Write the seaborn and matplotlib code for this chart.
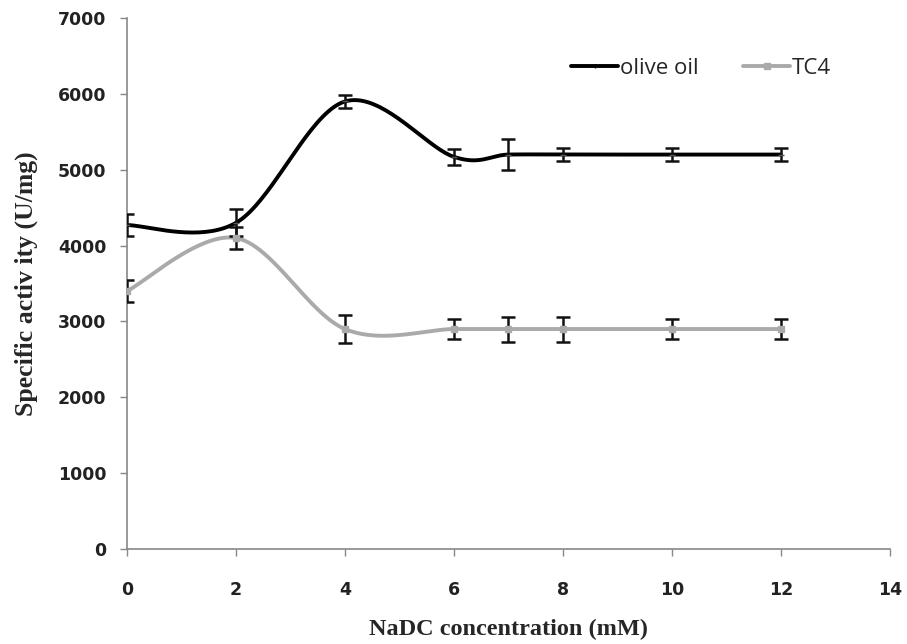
import numpy as np
import pandas as pd
import matplotlib
matplotlib.use("Agg")
import matplotlib.pyplot as plt
import seaborn as sns
from matplotlib.lines import Line2D

# ---- data ----
conc = [0, 2, 4, 6, 7, 8, 10, 12]
olive_oil = [4270, 4300, 5900, 5170, 5200, 5200, 5200, 5200]
olive_err = [150, 180, 85, 110, 210, 90, 90, 90]
tc4 = [3400, 4100, 2900, 2900, 2900, 2900, 2900, 2900]
tc4_err = [150, 150, 180, 130, 165, 165, 130, 130]
x_ticks = [0, 2, 4, 6, 8, 10, 12, 14]
y_ticks = [0, 1000, 2000, 3000, 4000, 5000, 6000, 7000]


def smooth(xs, ys, xscale, yscale, n=40, k=6.0):
    """Excel-like smoothed line (Bezier through points in pixel-like space)."""
    xs = np.asarray(xs, float); ys = np.asarray(ys, float)
    P = np.column_stack([xs * xscale, ys * yscale])
    P = np.vstack([P[0], P, P[-1]])
    out = []
    t = np.linspace(0, 1, n)
    for i in range(1, len(P) - 2):
        p0, p1, p2, p3 = P[i - 1], P[i], P[i + 1], P[i + 2]
        b1 = p1 + (p2 - p0) / k
        b2 = p2 - (p3 - p1) / k
        seg = ((1 - t) ** 3)[:, None] * p1 + (3 * (1 - t) ** 2 * t)[:, None] * b1 \
            + (3 * (1 - t) * t ** 2)[:, None] * b2 + (t ** 3)[:, None] * p2
        out.append(seg if i == 1 else seg[1:])
    S = np.vstack(out)
    return S[:, 0] / xscale, S[:, 1] / yscale


sns.set_theme(style="white")
fig = plt.figure(figsize=(9.07, 6.44), dpi=100)
ax = fig.add_axes([0.140, 0.1475, 0.841, 0.8245])

px_x, px_y = 763.0 / 14.0, 531.0 / 7000.0
frames = []
for name, ys in [("olive oil", olive_oil), ("TC4", tc4)]:
    sx, sy = smooth(conc, ys, px_x, px_y)
    frames.append(pd.DataFrame({"x": sx, "y": sy, "series": name}))
df = pd.concat(frames, ignore_index=True)

palette = {"olive oil": "#000000", "TC4": "#aaaaaa"}
sns.lineplot(data=df, x="x", y="y", hue="series", palette=palette, sort=False,
             estimator=None, linewidth=2.8, ax=ax, legend=False)

ax.errorbar(conc, olive_oil, yerr=olive_err, fmt="none", ecolor="#111111",
            elinewidth=1.8, capsize=5, capthick=1.8, zorder=5)
ax.errorbar(conc, tc4, yerr=tc4_err, fmt="none", ecolor="#111111",
            elinewidth=1.8, capsize=5, capthick=1.8, zorder=5)
ax.plot(conc, tc4, linestyle="none", marker="s", markersize=4,
        color="#aaaaaa", zorder=6)
ax.plot(conc, olive_oil, linestyle="none", marker="_", markersize=5,
        color="#555555", zorder=6)

ax.set_xlim(0, 14)
ax.set_ylim(0, 7000)
ax.set_xticks(x_ticks)
ax.set_yticks(y_ticks)
ax.tick_params(axis="both", which="major", direction="out", length=5,
               color="#888888", width=1, labelsize=12.5, labelcolor="#222222",
               left=True, bottom=True)
for lab in ax.get_xticklabels() + ax.get_yticklabels():
    lab.set_fontweight("bold")
ax.tick_params(axis="x", pad=18)
ax.tick_params(axis="y", pad=10)

for s in ["top", "right"]:
    ax.spines[s].set_visible(False)
for s in ["left", "bottom"]:
    ax.spines[s].set_color("#888888")
    ax.spines[s].set_linewidth(1.2)

ax.set_xlabel("NaDC concentration (mM)", fontsize=17.5, fontweight="bold",
              family="Liberation Serif", labelpad=14)
ax.set_ylabel("Specific activ ity (U/mg)", fontsize=18.5, fontweight="bold",
              family="Liberation Serif", labelpad=14)

handles = [Line2D([], [], color="#000000", lw=2.8, marker="|", markersize=3),
           Line2D([], [], color="#aaaaaa", lw=2.8, marker="s", markersize=4)]
leg = ax.legend(handles, ["olive oil", "TC4"], loc="center right",
                bbox_to_anchor=(0.935, 0.905), ncol=2, frameon=False,
                prop={"family": "Open Sans", "size": 16}, handlelength=2.1,
                handletextpad=0.1, columnspacing=2.0, borderaxespad=0)

fig.savefig("out.png", dpi=100)
